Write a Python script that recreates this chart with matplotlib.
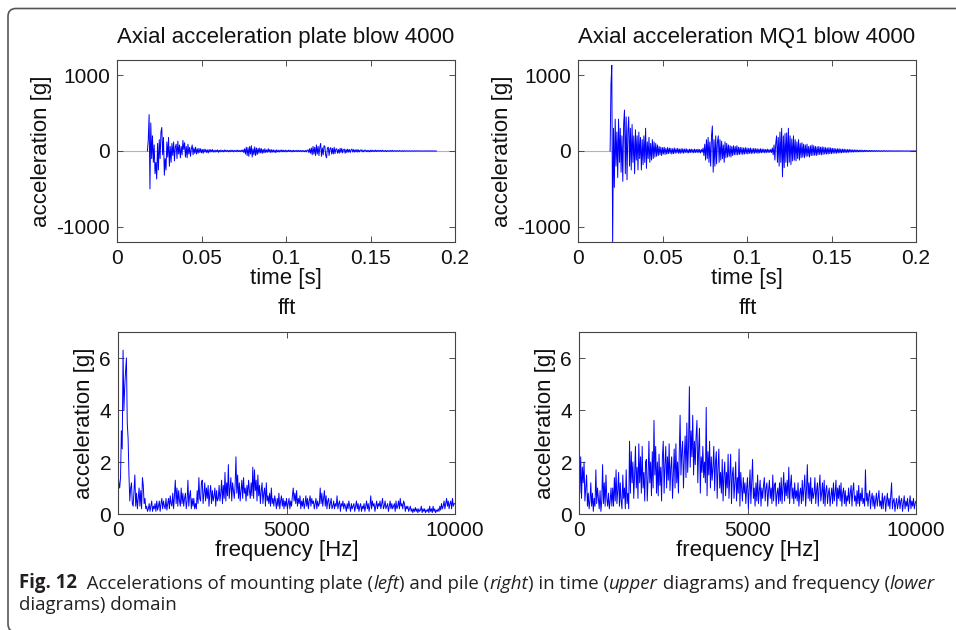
import matplotlib
matplotlib.use("Agg")
import matplotlib.pyplot as plt
from matplotlib.patches import FancyBboxPatch
from matplotlib.transforms import IdentityTransform
from matplotlib.text import Annotation
import numpy as np

W, H, DPI = 956, 630, 100

# ---- time signals (0.5 ms per sample) ----
time_step = 0.0005
plate_t0 = 0.018
plate_acc = [
    0, 150, 480, -500, 370, -100, 200, -150, 80, -300,
    -150, -370, 100, -250, 150, -100, 250, 310, -50, 180,
    -320, -100, -250, 120, -80, 180, -200, 60, -150, 100,
    -60, 120, -130, 50, 90, -100, 130, -40, 80, -90,
    60, -50, 140, 20, 110, -80, 60, -90, 90, -40,
    50, -70, 30, 80, -50, 40, -30, 50, -40, 30,
    -30, 35, -20, 30, -25, 20, -30, 25, -15, 20,
    -20, 15, -25, 20, -15, 18, -12, 20, -15, 10,
    -15, 12, -10, 15, -18, 10, -12, 14, -10, 8,
    -12, 14, -10, 12, -8, 10, -12, 8, -10, 12,
    -8, 10, -12, 8, -6, 10, -10, 12, -8, 6,
    -10, 12, -8, 15, -20, 30, -40, 50, -60, 45,
    -70, 60, -40, 70, -80, 30, -50, 55, -60, 40,
    -45, 35, -30, 40, -25, 30, -30, 20, -25, 30,
    -20, 15, -18, 30, -15, 20, -22, 18, -15, 15,
    -18, 12, -22, 15, -12, 10, -15, 12, -10, 15,
    -12, 10, -10, 12, -12, 8, -10, 12, -8, 10,
    -10, 8, -12, 10, -8, 6, -8, 10, -10, 8,
    -6, 8, -10, 8, -8, 6, -10, 8, -12, 10,
    15, -20, 30, -30, 40, -50, 60, -40, 50, -60,
    80, -40, 60, -60, 50, 100, -70, 40, -50, 70,
    60, -60, -90, 40, 50, -60, 30, 45, -40, 35,
    -40, 50, -35, 25, 30, -30, 20, -30, 35, -20,
    35, -25, 15, 25, -30, 20, -20, 25, -15, 20,
    -20, 15, 25, -15, 20, -15, 15, -12, 20, -15,
    15, -12, 12, 15, -10, 12, -12, 10, 12, -10,
    10, -10, 8, -12, 10, -8, 12, -8, 8, -8,
    12, -8, 8, -6, 10, -6, 8, -6, 10, -6,
    6, -6, 8, -8, 5, -5, 6, -5, 8, -5,
    8, -5, 5, -4, 6, -4, 5, -4, 6, -4,
    4, -4, 5, -5, 4, -3, 4, -3, 4, -3,
    4, -3, 3, -3, 3, -3, 4, -2, 3, -2,
    3, -2, 3, -2, 2, -2, 2, -2, 3, -2,
    2, -2, 2, -2, 3, -2, 2, -2, 2, -2,
    2, -1, 0,
]
mq1_t0 = 0.019
mq1_acc = [
    0, 880, 1130, -1250, 300, -480, 420, -200, 250, -350,
    420, -150, 300, -280, 200, -400, 350, 540, -300, 450,
    -380, 250, 450, -200, 300, -250, 350, -150, 200, -300,
    280, -120, 200, -250, 250, -100, 180, -250, 150, -180,
    200, -150, 300, -230, 120, -100, 180, -150, 100, -120,
    150, -100, 120, -80, 100, -70, 80, -60, 60, -50,
    50, -60, 45, -40, 50, -45, 35, -40, 45, -35,
    40, -30, 35, -40, 30, -35, 40, -30, 30, -25,
    35, -30, 25, -30, 30, -25, 30, -30, 25, -20,
    30, -25, 20, -25, 25, -20, 25, -20, 20, -25,
    25, -20, 20, -20, 25, -20, 20, -25, 20, -15,
    40, -60, 90, -120, 150, -100, 180, -150, 120, -200,
    200, 330, -280, 150, -200, 200, -170, 120, 200, -150,
    150, -120, 130, -100, 80, -150, 120, -90, 100, -80,
    80, -70, 70, -80, 60, -60, 70, -50, 60, -50,
    70, -50, 50, -45, 50, -40, 45, -45, 40, -40,
    45, -35, 40, -40, 35, -30, 40, -35, 30, -30,
    35, -30, 30, -25, 30, -30, 25, -25, 30, -25,
    25, -20, 25, -25, 20, -20, 25, -20, 20, -20,
    20, -20, 40, -50, 80, -120, 100, 200, -150, 180,
    -200, 250, -150, 300, -340, 200, -220, 230, -150, 240,
    -200, 300, -150, 200, -180, 160, -130, 200, -120, 150,
    -130, 120, -100, 150, -120, 100, -90, 110, -80, 90,
    -90, 80, -70, 90, -70, 60, -80, 70, -60, 80,
    -60, 70, -55, 60, -60, 55, -50, 60, -45, 50,
    -50, 55, -45, 50, -40, 45, -40, 40, -40, 45,
    -35, 40, -35, 35, -30, 35, -30, 30, -30, 30,
    -25, 30, -25, 25, -25, 25, -20, 25, -20, 20,
    -20, 20, -18, 20, -15, 18, -15, 15, -15, 15,
    -12, 15, -12, 12, -12, 12, -10, 12, -10, 10,
    -10, 10, -8, 10, -8, 8, -8, 8, -7, 8,
    -6, 7, -6, 6, -6, 6, -5, 6, -5, 5,
    -5, 5, -5, 5, -4, 5, -4, 4, -4, 4,
    -4, 4, -3, 4, -3, 3, -3, 3, -3, 3,
    -3, 3, -3, 3, -2, 3, -2, 2, -2, 2,
    -2, 2, -2, 2, -2, 2, -2, 2, -2, 2,
    -2, 2, 0,
]

# ---- spectra (25 Hz per bin) ----
freq_step = 25
plate_fft = [
    1.6, 1.2, 1.0, 1.4, 3.2, 2.5, 6.3, 4.0, 4.9, 5.5, 6.0, 3.5, 2.9, 1.5, 0.5, 1.0, 1.2, 0.4, 0.3, 0.9,
    1.5, 0.3, 0.8, 0.2, 0.6, 1.0, 0.3, 0.9, 0.2, 1.4, 1.1, 0.4, 0.6, 0.2, 0.3, 0.1, 0.2, 0.4, 0.1, 0.3,
    0.5, 0.1, 0.3, 0.2, 0.4, 0.1, 0.5, 0.15, 0.3, 0.5, 0.1, 0.4, 0.6, 0.2, 0.5, 0.3, 0.2, 0.6, 0.15, 0.4,
    0.6, 0.2, 0.7, 0.4, 0.3, 0.8, 0.2, 0.7, 1.3, 0.4, 1.0, 0.3, 0.9, 0.5, 0.3, 1.0, 0.4, 0.8, 0.3, 0.6,
    0.8, 0.2, 0.5, 1.3, 0.3, 0.7, 0.9, 0.2, 0.6, 0.3, 0.6, 0.2, 0.4, 0.2, 0.9, 0.4, 1.4, 0.6, 0.5, 1.2,
    1.3, 0.4, 0.8, 1.2, 0.5, 1.0, 0.6, 1.1, 0.3, 0.8, 1.1, 0.4, 0.9, 0.5, 0.7, 1.0, 0.3, 0.9, 0.5, 0.6,
    1.1, 0.5, 0.8, 1.3, 0.4, 1.1, 0.6, 1.6, 0.5, 1.2, 0.7, 1.9, 0.6, 1.0, 1.4, 0.5, 1.2, 0.9, 0.6, 1.1,
    2.2, 0.8, 1.5, 0.6, 1.2, 0.5, 0.9, 1.3, 0.6, 1.4, 0.8, 1.0, 0.5, 1.1, 0.7, 1.3, 0.9, 0.6, 1.2, 0.7,
    1.8, 0.6, 1.7, 0.9, 1.3, 0.5, 1.5, 0.7, 1.1, 0.4, 0.9, 1.2, 0.4, 0.8, 1.0, 0.3, 1.2, 0.5, 0.7, 0.4,
    0.8, 0.3, 1.0, 0.4, 0.6, 0.3, 0.7, 0.5, 0.2, 0.6, 0.3, 0.8, 0.2, 0.5, 0.7, 0.3, 0.6, 0.2, 0.5, 0.3,
    0.6, 0.2, 0.4, 0.6, 0.2, 0.5, 0.3, 0.7, 1.0, 0.5, 0.8, 0.4, 0.9, 0.3, 0.6, 0.4, 0.7, 0.2, 0.5, 0.3,
    0.6, 0.2, 0.4, 0.7, 0.3, 0.6, 0.2, 0.5, 0.7, 0.3, 0.6, 0.4, 0.5, 0.2, 0.4, 0.6, 0.2, 0.5, 0.3, 0.4,
    1.0, 0.4, 0.8, 0.3, 0.6, 0.9, 0.3, 0.7, 0.2, 0.5, 0.6, 0.2, 0.4, 0.6, 0.2, 0.3, 0.5, 0.2, 0.4, 0.3,
    0.7, 0.2, 0.4, 0.5, 0.1, 0.4, 0.3, 0.5, 0.2, 0.4, 0.3, 0.1, 0.4, 0.2, 0.5, 0.3, 0.1, 0.4, 0.2, 0.3,
    0.4, 0.1, 0.3, 0.5, 0.2, 0.4, 0.1, 0.3, 0.4, 0.1, 0.3, 0.2, 0.4, 0.1, 0.3, 0.5, 0.2, 0.4, 0.1, 0.3,
    0.7, 0.2, 0.5, 0.3, 0.4, 0.1, 0.3, 0.5, 0.2, 0.4, 0.3, 0.5, 0.2, 0.4, 0.6, 0.2, 0.3, 0.5, 0.2, 0.3,
    0.4, 0.1, 0.3, 0.5, 0.2, 0.4, 0.2, 0.3, 0.4, 0.1, 0.5, 0.2, 0.3, 0.5, 0.2, 0.6, 0.3, 0.4, 0.2, 0.5,
    0.4, 0.1, 0.3, 0.2, 0.3, 0.1, 0.2, 0.3, 0.1, 0.2, 0.05, 0.2, 0.1, 0.25, 0.1, 0.2, 0.05, 0.2, 0.1, 0.15,
    0.3, 0.05, 0.2, 0.1, 0.2, 0.05, 0.15, 0.1, 0.2, 0.05, 0.3, 0.1, 0.2, 0.05, 0.3, 0.1, 0.2, 0.05, 0.15, 0.1,
    0.2, 0.1, 0.3, 0.15, 0.4, 0.2, 0.3, 0.5, 0.2, 0.4, 0.6, 0.3, 0.5, 0.2, 0.4, 0.5, 0.2, 0.6, 0.3, 0.4,
    0.4,
]
mq1_fft = [
    1.6, 0.8, 2.2, 0.6, 1.8, 1.2, 2.0, 0.5, 1.0, 1.5, 0.3, 0.8, 0.2, 0.5, 1.2, 0.3, 0.8, 0.1, 0.6, 0.3,
    1.7, 0.4, 1.0, 0.6, 0.2, 0.9, 0.1, 0.5, 1.9, 0.4, 1.2, 0.3, 1.5, 0.6, 0.3, 0.8, 0.2, 0.5, 1.0, 0.3,
    1.0, 0.3, 1.4, 0.5, 1.7, 0.4, 0.9, 1.6, 0.3, 1.2, 0.5, 0.2, 1.5, 0.6, 1.0, 0.2, 1.7, 0.4, 0.8, 0.2,
    2.8, 0.8, 2.4, 1.2, 2.0, 0.6, 1.5, 2.6, 1.0, 1.8, 0.6, 2.7, 1.2, 2.2, 0.8, 2.6, 1.0, 1.6, 0.5, 2.0,
    2.1, 0.5, 1.4, 2.8, 1.2, 2.0, 0.7, 2.4, 1.0, 3.6, 1.5, 2.6, 0.8, 2.0, 0.7, 2.3, 1.1, 1.8, 0.5, 2.2,
    2.8, 0.8, 1.9, 2.6, 1.0, 2.2, 1.3, 2.7, 0.9, 1.8, 2.2, 0.6, 1.5, 2.5, 1.0, 2.7, 1.2, 2.0, 0.8, 2.4,
    3.8, 1.5, 2.4, 2.8, 1.0, 2.2, 3.0, 1.4, 3.5, 1.6, 2.6, 4.9, 1.8, 3.2, 2.2, 3.8, 1.5, 2.8, 1.9, 3.0,
    3.6, 1.2, 2.5, 3.3, 0.8, 2.2, 1.6, 2.6, 1.4, 2.0, 1.2, 4.1, 0.7, 2.4, 1.5, 2.8, 1.0, 2.2, 1.3, 1.8,
    2.6, 0.9, 2.0, 2.4, 0.6, 1.8, 2.5, 1.0, 1.6, 0.8, 2.1, 0.5, 1.5, 2.0, 0.7, 1.6, 1.0, 2.3, 0.6, 1.4,
    2.3, 0.4, 1.5, 1.8, 0.6, 1.2, 2.0, 0.5, 1.4, 0.8, 2.5, 0.3, 1.6, 1.0, 0.5, 1.4, 0.8, 1.2, 0.4, 1.0,
    1.4, 0.2, 1.0, 1.7, 0.4, 1.2, 2.1, 0.6, 1.0, 0.3, 1.2, 0.5, 1.5, 0.4, 0.9, 1.3, 0.3, 1.0, 0.6, 1.1,
    1.4, 0.5, 1.0, 1.2, 0.3, 0.9, 1.3, 0.6, 1.0, 0.4, 1.5, 0.5, 1.1, 1.2, 0.3, 0.8, 1.0, 0.4, 1.2, 0.5,
    1.4, 0.4, 1.0, 1.6, 0.5, 1.2, 0.7, 1.3, 0.6, 1.8, 0.4, 1.1, 1.5, 0.6, 1.0, 0.4, 1.2, 0.6, 0.9, 0.5,
    1.2, 0.3, 0.8, 1.0, 0.4, 1.3, 0.5, 1.0, 1.5, 0.3, 0.9, 1.9, 0.6, 1.2, 0.5, 1.4, 0.4, 1.0, 0.6, 0.8,
    1.4, 0.4, 0.9, 1.2, 0.3, 1.0, 1.5, 0.5, 0.8, 1.2, 0.4, 1.3, 0.3, 0.9, 1.1, 0.4, 0.8, 1.0, 0.3, 0.7,
    1.0, 0.4, 1.2, 0.5, 0.8, 1.3, 0.3, 1.0, 0.6, 1.1, 0.5, 1.2, 0.3, 0.8, 1.0, 0.4, 0.9, 0.3, 0.7, 0.5,
    1.0, 0.4, 0.8, 1.1, 0.3, 0.9, 1.2, 0.5, 0.7, 0.3, 0.9, 0.4, 1.1, 0.3, 0.8, 0.5, 1.0, 0.4, 0.6, 0.3,
    1.7, 0.5, 0.8, 0.3, 0.7, 0.9, 0.2, 0.6, 0.8, 0.3, 0.7, 0.2, 0.5, 0.8, 0.3, 0.6, 0.9, 0.3, 0.5, 0.2,
    0.8, 0.2, 0.6, 0.7, 0.1, 0.5, 0.8, 0.3, 0.6, 0.2, 0.7, 1.2, 0.2, 0.5, 0.6, 0.1, 0.4, 0.6, 0.2, 0.4,
    0.7, 0.2, 0.5, 0.6, 0.1, 0.4, 0.7, 0.2, 0.5, 0.3, 0.6, 0.1, 0.4, 0.7, 0.2, 0.5, 0.3, 0.6, 0.2, 0.4,
    0.5,
]

time_ticks = [0, 0.05, 0.1, 0.15, 0.2]
time_ticklabels = ["0", "0.05", "0.1", "0.15", "0.2"]
acc_ticks = [-1000, 0, 1000]
freq_ticks = [0, 5000, 10000]
fft_ticks = [0, 2, 4, 6]

titles = ["Axial acceleration plate blow 4000", "Axial acceleration MQ1 blow 4000"]

caption_line1 = [
    ("Fig. 12", "bold", "normal"),
    ("  Accelerations of mounting plate (", "normal", "normal"),
    ("left", "normal", "italic"),
    (") and pile (", "normal", "normal"),
    ("right", "normal", "italic"),
    (") in time (", "normal", "normal"),
    ("upper", "normal", "italic"),
    (" diagrams) and frequency (", "normal", "normal"),
    ("lower", "normal", "italic"),
]
caption_line2 = "diagrams) domain"

BLUE = "#0000ff"
TXT = "#111111"
TICK_FS = 15
LABEL_FS = 16

plt.rcParams["font.family"] = ["Liberation Sans", "DejaVu Sans"]


def px_axes(fig, left, top, right, bottom):
    return fig.add_axes([left / W, 1 - bottom / H, (right - left) / W, (bottom - top) / H])


def style_ax(ax):
    ax.tick_params(direction="in", top=True, right=True, length=4, width=0.6,
                   color="#333333", labelcolor=TXT, labelsize=TICK_FS, pad=5)
    for sp in ax.spines.values():
        sp.set_color("#444444")
        sp.set_linewidth(0.8)


fig = plt.figure(figsize=(W / DPI, H / DPI), dpi=DPI)
fig.patch.set_facecolor("white")

signals = [(plate_t0, plate_acc), (mq1_t0, mq1_acc)]
spectra = [plate_fft, mq1_fft]
lefts = [117, 578]

for i in range(2):
    # time domain
    ax = px_axes(fig, lefts[i], 60, lefts[i] + 338, 242)
    t0, acc = signals[i]
    t = t0 + time_step * np.arange(len(acc))
    ax.axhline(0, color="#b4b4b4", lw=0.8, zorder=1)
    ax.plot(t, acc, color=BLUE, lw=0.7, zorder=2)
    ax.set_xlim(0, 0.2)
    ax.set_ylim(-1200, 1200)
    ax.set_xticks(time_ticks)
    ax.set_xticklabels(time_ticklabels)
    ax.set_yticks(acc_ticks)
    ax.set_yticklabels([str(v) for v in acc_ticks])
    style_ax(ax)
    ax.set_title(titles[i], fontsize=LABEL_FS, color=TXT, pad=12)
    ax.set_xlabel("time [s]", fontsize=LABEL_FS, color=TXT, labelpad=0)
    ax.set_ylabel("acceleration [g]", fontsize=LABEL_FS, color=TXT, labelpad=3)

    # frequency domain
    ax2 = px_axes(fig, lefts[i] + 1, 332, lefts[i] + 338, 514)
    spec = spectra[i]
    f = freq_step * np.arange(len(spec))
    ax2.plot(f, spec, color=BLUE, lw=0.7)
    ax2.set_xlim(0, 10000)
    ax2.set_ylim(0, 7)
    ax2.set_xticks(freq_ticks)
    ax2.set_xticklabels([str(v) for v in freq_ticks])
    ax2.set_yticks(fft_ticks)
    ax2.set_yticklabels([str(v) for v in fft_ticks])
    style_ax(ax2)
    ax2.set_title("fft", fontsize=LABEL_FS, color=TXT, pad=13)
    ax2.set_xlabel("frequency [Hz]", fontsize=LABEL_FS, color=TXT, labelpad=0)
    ax2.set_ylabel("acceleration [g]", fontsize=LABEL_FS, color=TXT, labelpad=3)

# caption: pieces chained so each one starts where the last one ends
CAP_FONT = ["Open Sans", "DejaVu Sans"]
CAP_FS = 13.4
CAP_COL = "#231f20"
text0, w0, s0 = caption_line1[0]
prev = fig.text(19 / W, 1 - 588 / H, text0, fontsize=CAP_FS, fontweight=w0, fontstyle=s0,
                color=CAP_COL, va="baseline", ha="left", family=CAP_FONT)
for text, weight, style in caption_line1[1:]:
    prev = fig.add_artist(Annotation(
        text, xy=(1, 0), xycoords=prev, va="bottom", ha="left", family=CAP_FONT,
        fontsize=CAP_FS, fontweight=weight, fontstyle=style, color=CAP_COL))
fig.text(19 / W, 1 - 610 / H, caption_line2, fontsize=CAP_FS, color=CAP_COL,
         va="baseline", ha="left", family=CAP_FONT)

# rounded frame; right and bottom edges run off the image
frame = FancyBboxPatch((8, -2), 1000, 623.5, boxstyle="round,pad=0,rounding_size=8",
                       transform=IdentityTransform(), fill=False,
                       edgecolor="#555555", lw=1.2)
fig.add_artist(frame)

fig.savefig("out.png", dpi=DPI)
